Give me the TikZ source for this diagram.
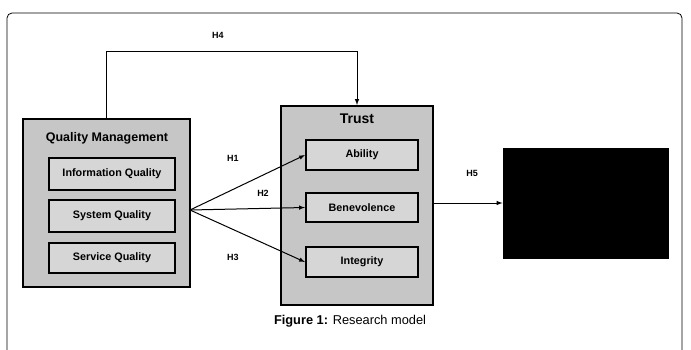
\documentclass[tikz,border=0pt]{standalone}
\usepackage{fontspec}
\setmainfont{Liberation Sans}

\begin{document}
\begin{tikzpicture}[x=1pt, y=-1pt, ->, >=latex, line width=1pt,
  outer/.style = {draw, line width=2pt, fill=gray!45},
  inner/.style = {draw, line width=2pt, fill=gray!32, inner sep=0pt, font=\fontsize{10.8}{12}\selectfont\bfseries},
  hyp/.style = {font=\fontsize{9}{10}\selectfont\bfseries}]
\useasboundingbox (0,0) rectangle (691,349);
\draw[-, line width=0.8pt, rounded corners=5pt] (7,370) -- (7,13) -- (682,13) -- (682,370);

\node[outer, minimum width=167pt, minimum height=168pt] (qm) at (106.5,203) {};
\node[font=\fontsize{12.5}{14}\selectfont\bfseries] (qmtitle) at (107,138) {Quality Management};
\node[inner, minimum width=126pt, minimum height=32pt] (info) at (112,174) {Information Quality};
\node[inner, minimum width=126pt, minimum height=32pt] (system) at (112,216) {System Quality};
\node[inner, minimum width=126pt, minimum height=30pt] (service) at (112,258) {Service Quality};

\node[outer, minimum width=152pt, minimum height=199pt] (trust) at (357,205.5) {};
\node[font=\fontsize{14}{16}\selectfont\bfseries] (trusttitle) at (357,119) {Trust};
\node[inner, minimum width=112pt, minimum height=30pt] (ability) at (362,155) {Ability};
\node[inner, minimum width=112pt, minimum height=29pt] (benev) at (362,207.5) {Benevolence};
\node[inner, minimum width=112pt, minimum height=30pt] (integ) at (362,262) {Integrity};

\node[draw, fill=black, minimum width=165pt, minimum height=110pt] (outcome) at (585.5,203) {};

\coordinate (fan) at (190,210);
\draw (fan) -- (ability.west);
\draw (fan) -- (benev.west);
\draw (fan) -- (integ.west);
\draw (qm.north) -- ++(0,-67) -| (trust.north);
\draw (trust.east |- outcome.west) -- (outcome.west);

\node[hyp] (h1) at (233,158) {H1};
\node[hyp] (h2) at (263,193) {H2};
\node[hyp] (h3) at (233,257) {H3};
\node[hyp] (h4) at (218,35) {H4};
\node[hyp] (h5) at (472,173) {H5};

\node[font=\fontsize{12.8}{15}\selectfont] (caption) at (350,321) {\textbf{Figure 1:} Research model};
\end{tikzpicture}
\end{document}
